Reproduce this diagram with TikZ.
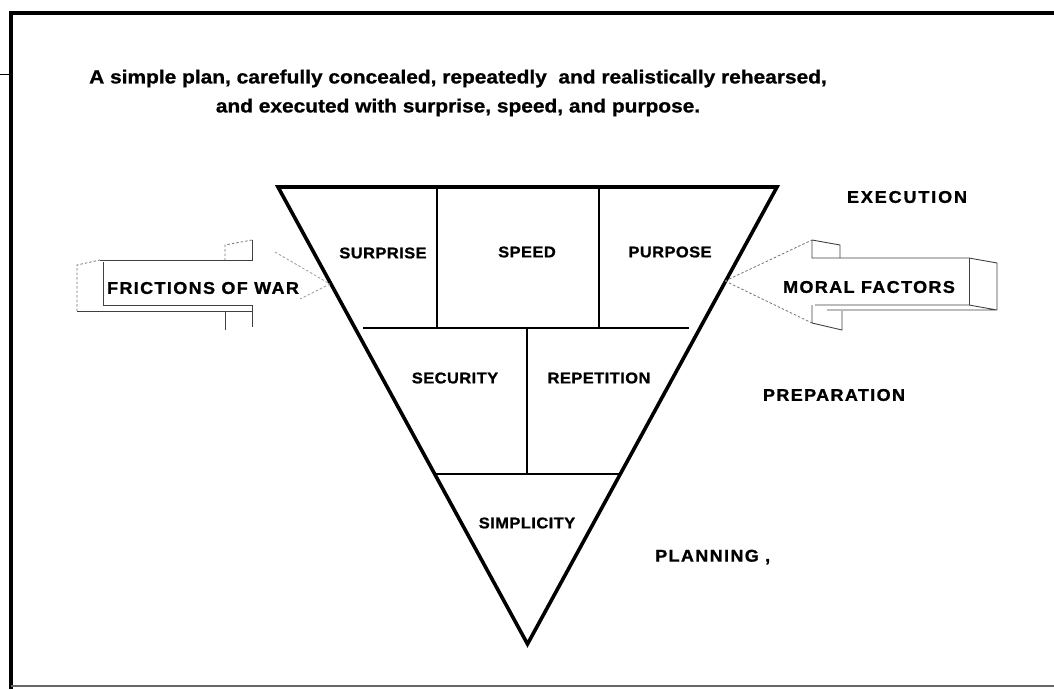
\documentclass[tikz,border=0pt]{standalone}
\usepackage{fontspec}
\setmainfont{Liberation Sans}
\newfontfamily\labfont{Liberation Sans}[FakeStretch=1.06,BoldFeatures={FakeBold=1.2}]
\newfontfamily\ttlfont{Liberation Sans}[FakeStretch=1.1,BoldFeatures={FakeBold=1}]
\begin{document}
\begin{tikzpicture}[x=1pt,y=-1pt,
  edge/.style={line width=3.6pt,line join=miter},
  inner/.style={line width=2pt},
  sk/.style={line width=0.9pt,black!75},
  skd/.style={line width=0.8pt,black!55,dash pattern=on 2.5pt off 2pt},
  lab/.style={font=\labfont\bfseries\fontsize{15.5}{16}\selectfont\addfontfeature{LetterSpace=3},inner sep=0pt},
  biglab/.style={font=\labfont\bfseries\fontsize{17}{18}\selectfont\addfontfeature{LetterSpace=8},inner sep=0pt},
  ttl/.style={font=\ttlfont\bfseries\fontsize{19}{29}\selectfont,inner sep=0pt,align=center}]
\useasboundingbox (0,0) rectangle (1054,689);
% frame
\draw[line width=3.5pt] (1054,13) -- (11,13) -- (11,689);
\draw[line width=1.5pt,black!60] (11,686) -- (1054,686);
\draw[line width=1pt] (0,74) -- (11,74);
% title
\node[ttl] (title) at (458,93) {A simple plan, carefully concealed, repeatedly\ \ and realistically rehearsed,\\and executed with surprise, speed, and purpose.};
% triangle
\coordinate (TL) at (278,187);
\coordinate (TR) at (777,187);
\coordinate (A) at (527.5,644);
\draw[edge] (TL) -- (TR) -- (A) -- cycle;
\coordinate (h1a) at (363,328); \coordinate (h1b) at (689,328);
\coordinate (h2a) at (436,474); \coordinate (h2b) at (619,474);
\draw[inner] (h1a) -- (h1b);
\draw[inner] (h2a) -- (h2b);
\draw[inner] (437,187) -- (437,328);
\draw[inner] (599,187) -- (599,328);
\draw[inner] (527,328) -- (527,474);
% labels inside
\node[lab] (surprise) at (383,253) {SURPRISE};
\node[lab] (speed) at (527,252) {SPEED};
\node[lab] (purpose) at (670,252) {PURPOSE};
\node[lab] (security) at (455,378) {SECURITY};
\node[lab] (repetition) at (599,378) {REPETITION};
\node[lab] (simplicity) at (527,523) {SIMPLICITY};
% labels outside
\node[biglab,font=\labfont\bfseries\fontsize{17}{18}\selectfont\addfontfeature{LetterSpace=11}] (execution) at (907,197) {EXECUTION};
\node[biglab] (preparation) at (834,395) {PREPARATION};
\node[biglab,anchor=west] (planning) at (655,557) {PLANNING ,};
\node[biglab] (moral) at (869,287) {MORAL FACTORS};
\node[biglab] (friction) at (203,288) {FRICTIONS OF WAR};
% left arrow (frictions of war)
\coordinate (LT) at (330,284);
\draw[sk] (100,260) -- (252,260) -- (252,240);
\draw[skd] (252,240) -- (225,245) -- (225,260);
\draw[sk] (103,262) -- (103,305) -- (252,305) -- (252,327);
\draw[sk] (225,311) -- (225,330);
\draw[sk] (77,311) -- (252,311);
\draw[skd] (77,311) -- (77,265) -- (100,260);
\draw[skd,black!40] (275,252) -- (LT);
\draw[skd,black!40] (LT) -- (300,299);
% right arrow (moral factors)
\coordinate (RT) at (725,281);
\draw[skd] (RT) -- (812,240);
\draw[skd] (RT) -- (812,323);
\draw[sk] (812,240) -- (840,245) -- (840,258);
\draw[sk] (812,240) -- (812,258) -- (969,258) -- (997,263) -- (997,310);
\draw[sk] (969,258) -- (969,305);
\draw[sk] (815,305) -- (969,305) -- (997,310) -- (827,310);
\draw[sk] (812,305) -- (812,323) -- (842,330) -- (842,311);
\end{tikzpicture}
\end{document}
